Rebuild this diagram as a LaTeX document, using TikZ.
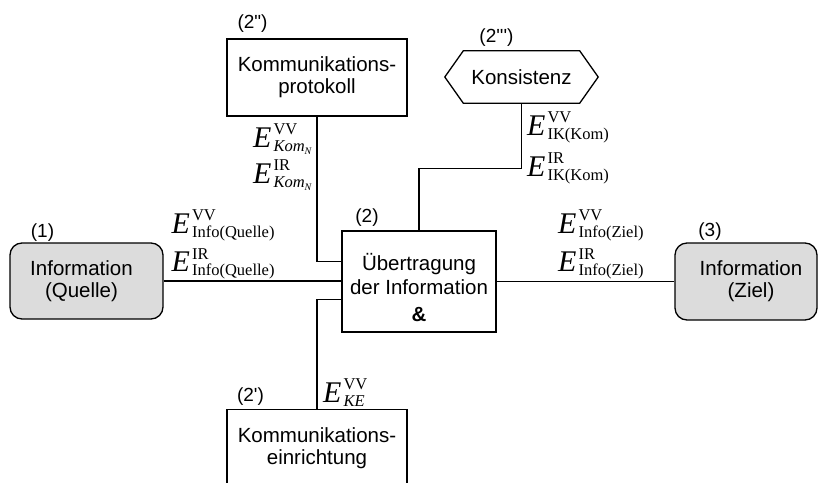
\documentclass[tikz,border=0pt]{standalone}
\usepackage{fontspec}
\setmainfont{Liberation Sans}[Ligatures=TeXOff]
\newfontfamily\timesf{Liberation Serif}
\usetikzlibrary{calc}

\definecolor{infogray}{RGB}{220,220,220}

% text sizes
\newcommand\boxfont{\fontsize{20.5}{22}\selectfont}
\newcommand\tagfont{\fontsize{19}{21}\selectfont}
\newcommand\scr{\fontsize{16.5}{16.5}\selectfont\timesf}

% E with stacked super- and subscript
\newcommand\Ebase{{\fontsize{30}{30}\selectfont\timesf\itshape E}}
\newcommand\EE[2]{\Ebase\kern2pt\rlap{\raisebox{12.5pt}{\scr #1}}\raisebox{-4pt}{\scr #2}}
\newcommand\KomN{\textit{Kom}\raisebox{-3pt}{\fontsize{10}{10}\selectfont\itshape N}}

\begin{document}
\begin{tikzpicture}[x=1pt,y=-1pt,
  box/.style={draw, line width=1.3pt, align=center, font=\boxfont,
    inner sep=0pt, minimum width=180pt, minimum height=77pt},
  info/.style={box, rounded corners=12pt, fill=infogray},
  tag/.style={font=\tagfont, anchor=base, inner sep=0pt},
  elab/.style={anchor=base west, inner sep=0pt},
  wire/.style={line width=1.3pt}]

\useasboundingbox (0,0) rectangle (819,482);
\clip (0,0) rectangle (819,482);

% blocks
\node[info, minimum width=153pt, minimum height=76pt] (src) at (86.5,281)
  {Information\hspace*{10pt}\\(Quelle)\hspace*{10pt}};
\node[info, minimum width=142pt, minimum height=77pt] (dst) at (746,281.5)
  {\hspace*{10pt}Information\\\hspace*{10pt}(Ziel)};
\node[box, minimum width=154pt, minimum height=101pt,
  font=\fontsize{20.5}{24}\selectfont] (center) at (419,281.5)
  {\rule{0pt}{28.5pt}Übertragung\\der Information\\[3pt]\textbf{\&}};
\node[box] (prot) at (317,77.5) {Kommunikations-\\protokoll};
\node[box, anchor=north] (einr) at (317,409) {Kommunikations-\\einrichtung};
\node[font=\boxfont, inner sep=0pt, minimum width=116pt, minimum height=52pt] (kons) at (521.5,77) {Konsistenz};
\draw[line width=1.3pt] ([xshift=-18.5pt]kons.west) -- (kons.north west) -- (kons.north east)
  -- ([xshift=18.5pt]kons.east) -- (kons.south east) -- (kons.south west) -- cycle;

% connectors
\draw[wire] (src.east) -- (src.east -| center.west);
\draw[wire] (center.east) -- (center.east -| dst.west);
\draw[wire] (prot.south) |- ($(center.north west)!0.307!(center.south west)$);
\draw[wire] (einr.north) |- ($(center.north west)!0.673!(center.south west)$);
\draw[wire] (kons.south) -- ++(0,65) -| (center.north);

% block numbers
\node[tag] (t1) at (42.5,237) {(1)};
\node[tag] (t2) at (367,222) {(2)};
\node[tag] (t2a) at (250.5,401.5) {(2\symbol{39})};
\node[tag] (t2b) at (252.5,28.5) {(2\symbol{34})};
\node[tag] (t2c) at (496.5,42) {(2\symbol{39}\symbol{39}\symbol{39})};
\node[tag] (t3) at (710,236) {(3)};

% flow labels
\node[elab] (eq1) at (171.5,233) {\EE{VV}{Info(Quelle)}};
\node[elab] (eq2) at (171.5,271.5) {\EE{IR}{Info(Quelle)}};
\node[elab] (ez1) at (558,233) {\EE{VV}{Info(Ziel)}};
\node[elab] (ez2) at (558,271.5) {\EE{IR}{Info(Ziel)}};
\node[elab] (ek1) at (253,147) {\EE{VV}{\KomN}};
\node[elab] (ek2) at (253,183) {\EE{IR}{\KomN}};
\node[elab] (ei1) at (527,135) {\EE{VV}{IK(Kom)}};
\node[elab] (ei2) at (527,176) {\EE{IR}{IK(Kom)}};
\node[elab] (ee) at (323,402) {\EE{VV}{\textit{KE}}};
\end{tikzpicture}
\end{document}
